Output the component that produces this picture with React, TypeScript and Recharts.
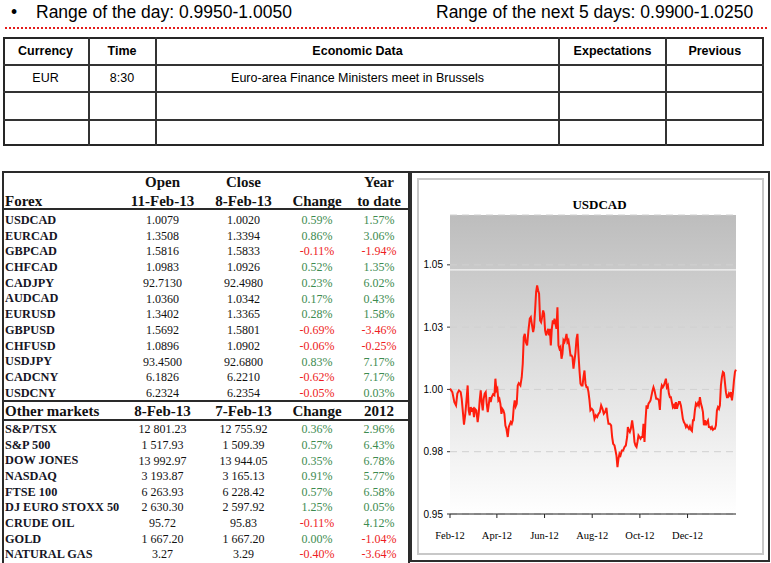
import React from 'react';
import { LineChart, Line, XAxis, YAxis, CartesianGrid, ReferenceLine } from 'recharts';

// ---------- data ----------
const rangeDay = 'Range of the day: 0.9950-1.0050';
const rangeWeek = 'Range of the next 5 days: 0.9900-1.0250';

const econHeaders = ['Currency', 'Time', 'Economic Data', 'Expectations', 'Previous'];
const econRow = ['EUR', '8:30', 'Euro-area Finance Ministers meet in Brussels', '', ''];

const forexHeaderTop = ['', 'Open', 'Close', '', 'Year'];
const forexHeaderBottom = ['Forex', '11-Feb-13', '8-Feb-13', 'Change', 'to date'];
const forexNames = ['USDCAD', 'EURCAD', 'GBPCAD', 'CHFCAD', 'CADJPY', 'AUDCAD', 'EURUSD', 'GBPUSD', 'CHFUSD', 'USDJPY', 'CADCNY', 'USDCNY'];
const forexOpen = ['1.0079', '1.3508', '1.5816', '1.0983', '92.7130', '1.0360', '1.3402', '1.5692', '1.0896', '93.4500', '6.1826', '6.2324'];
const forexClose = ['1.0020', '1.3394', '1.5833', '1.0926', '92.4980', '1.0342', '1.3365', '1.5801', '1.0902', '92.6800', '6.2210', '6.2354'];
const forexChange = ['0.59%', '0.86%', '-0.11%', '0.52%', '0.23%', '0.17%', '0.28%', '-0.69%', '-0.06%', '0.83%', '-0.62%', '-0.05%'];
const forexYtd = ['1.57%', '3.06%', '-1.94%', '1.35%', '6.02%', '0.43%', '1.58%', '-3.46%', '-0.25%', '7.17%', '7.17%', '0.03%'];

const marketHeader = ['Other markets', '8-Feb-13', '7-Feb-13', 'Change', '2012'];
const marketNames = ['S&P/TSX', 'S&P 500', 'DOW JONES', 'NASDAQ', 'FTSE 100', 'DJ EURO STOXX 50', 'CRUDE OIL', 'GOLD', 'NATURAL GAS'];
const marketLast = ['12 801.23', '1 517.93', '13 992.97', '3 193.87', '6 263.93', '2 630.30', '95.72', '1 667.20', '3.27'];
const marketPrev = ['12 755.92', '1 509.39', '13 944.05', '3 165.13', '6 228.42', '2 597.92', '95.83', '1 667.20', '3.29'];
const marketChange = ['0.36%', '0.57%', '0.35%', '0.91%', '0.57%', '1.25%', '-0.11%', '0.00%', '-0.40%'];
const market2012 = ['2.96%', '6.43%', '6.78%', '5.77%', '6.58%', '0.05%', '4.12%', '-1.04%', '-3.64%'];

const chartTitle = 'USDCAD';
// days since 8-Feb-2012
const usdcadDays = [
  0.0, 3.0, 5.6, 7.7, 9.4, 11.5, 13.7, 15.0, 16.7, 17.9, 19.6, 20.9, 22.6, 23.9, 25.2, 26.5, 27.8, 29.5, 30.7, 32.0,
  33.7, 35.4, 36.7, 38.0, 39.3, 40.6, 41.9, 43.1, 44.4, 45.7, 47.0, 48.3, 49.5, 50.8, 52.1, 53.4, 55.1, 56.8, 58.1, 59.4,
  60.6, 61.9, 63.2, 64.5, 65.8, 67.0, 68.3, 69.6, 70.9, 72.2, 73.9, 75.2, 76.4, 77.7, 79.0, 80.3, 81.6, 82.8, 84.1, 85.4,
  86.7, 88.0, 90.1, 91.8, 93.1, 94.4, 95.7, 97.0, 98.7, 100.4, 102.1, 103.4, 104.7, 106.4, 107.6, 108.9, 110.2, 111.5, 112.8, 114.0,
  115.3, 116.6, 117.9, 119.2, 120.4, 121.7, 123.0, 124.3, 125.6, 126.9, 127.7, 129.0, 130.3, 131.6, 132.8, 133.7, 135.0, 136.2, 137.5, 138.8,
  140.1, 141.4, 142.7, 143.9, 145.2, 146.5, 147.8, 149.1, 150.3, 151.6, 152.9, 154.2, 155.5, 156.7, 158.0, 159.3, 160.6, 161.9, 163.1, 164.4,
  165.7, 167.0, 168.3, 169.6, 170.8, 172.1, 173.4, 174.7, 176.0, 177.2, 178.5, 179.7, 181.4, 183.1, 184.9, 186.6, 188.3, 190.0, 191.7, 193.4,
  195.1, 196.8, 198.5, 200.2, 201.5, 202.8, 204.5, 206.2, 207.5, 208.8, 210.5, 211.8, 213.0, 214.3, 215.6, 216.9, 218.2, 219.9, 221.6, 223.3,
  225.0, 226.7, 227.6, 228.8, 230.1, 231.4, 233.1, 234.8, 236.1, 237.4, 238.7, 239.9, 241.2, 242.5, 243.8, 245.1, 246.3, 247.6, 248.9, 250.2,
  251.5, 252.7, 254.0, 255.3, 256.6, 257.9, 259.2, 260.4, 261.7, 263.0, 263.9, 265.6, 267.3, 268.6, 269.9, 271.1, 272.4, 273.7, 275.0, 276.3,
  277.5, 278.8, 280.1, 281.4, 282.7, 283.9, 285.2, 286.5, 287.8, 289.1, 290.4, 291.6, 292.9, 294.2, 295.5, 296.8, 298.0, 299.3, 300.6, 301.9,
  303.2, 304.4, 305.7, 307.0, 308.3, 309.6, 310.9, 312.1, 313.4, 314.7, 316.0, 317.3, 318.5, 319.8, 321.1, 322.4, 323.7, 324.9, 326.2, 327.5,
  328.8, 330.1, 331.3, 332.6, 333.9, 335.2, 336.5, 337.8, 339.0, 340.3, 341.6, 342.9, 344.2, 345.4, 346.7, 348.0, 349.3, 350.6, 351.8, 353.1,
  354.4, 355.7, 357.0, 358.2, 359.5, 360.8, 362.1, 363.4, 364.7, 365.9,
];
const usdcadRates = [
  1.0003, 0.9989, 0.9949, 0.9936, 0.9983, 0.9996, 0.9989, 0.9962, 0.9902, 0.9859, 0.9902, 0.9949, 1.0016, 0.9916, 0.9896, 0.9929, 0.9916, 0.9922, 0.9889, 0.9922,
  0.9916, 0.9869, 0.9902, 0.9956, 0.9996, 0.9949, 0.9916, 0.9962, 0.9983, 0.9989, 0.9942, 0.9909, 0.9936, 0.9969, 0.9949, 0.9969, 0.9980, 0.9976, 1.0043, 0.9996,
  1.0003, 0.9956, 0.9962, 0.9942, 0.9902, 0.9922, 0.9916, 0.9902, 0.9855, 0.9842, 0.9809, 0.9849, 0.9859, 0.9869, 0.9862, 0.9876, 0.9929, 0.9956, 0.9932, 0.9942,
  1.0016, 1.0025, 1.0016, 1.0049, 1.0103, 1.0210, 1.0223, 1.0190, 1.0177, 1.0237, 1.0284, 1.0290, 1.0263, 1.0230, 1.0250, 1.0317, 1.0391, 1.0417, 1.0397, 1.0384,
  1.0277, 1.0270, 1.0290, 1.0317, 1.0304, 1.0237, 1.0217, 1.0230, 1.0243, 1.0217, 1.0243, 1.0177, 1.0243, 1.0277, 1.0263, 1.0284, 1.0263, 1.0243, 1.0330, 1.0177,
  1.0163, 1.0170, 1.0123, 1.0143, 1.0197, 1.0190, 1.0203, 1.0223, 1.0190, 1.0197, 1.0170, 1.0136, 1.0136, 1.0130, 1.0083, 1.0116, 1.0150, 1.0203, 1.0223, 1.0143,
  1.0076, 1.0023, 1.0016, 1.0016, 1.0049, 1.0076, 1.0023, 1.0009, 1.0009, 0.9989, 0.9956, 0.9916, 0.9922, 0.9916, 0.9882, 0.9896, 0.9889, 0.9902, 0.9909, 0.9936,
  0.9922, 0.9902, 0.9909, 0.9926, 0.9889, 0.9862, 0.9862, 0.9856, 0.9809, 0.9782, 0.9775, 0.9755, 0.9735, 0.9688, 0.9722, 0.9742, 0.9735, 0.9755, 0.9755, 0.9769,
  0.9775, 0.9809, 0.9849, 0.9836, 0.9829, 0.9842, 0.9876, 0.9836, 0.9789, 0.9775, 0.9769, 0.9789, 0.9815, 0.9809, 0.9802, 0.9809, 0.9809, 0.9862, 0.9789, 0.9876,
  0.9936, 0.9922, 0.9943, 0.9949, 0.9956, 0.9976, 0.9996, 1.0009, 0.9996, 0.9976, 0.9963, 0.9963, 0.9956, 0.9918, 0.9996, 1.0016, 1.0009, 1.0016, 1.0029, 1.0043,
  1.0009, 1.0016, 0.9983, 0.9969, 0.9969, 0.9949, 0.9929, 0.9936, 0.9922, 0.9949, 0.9922, 0.9936, 0.9949, 0.9949, 0.9936, 0.9909, 0.9882, 0.9869, 0.9862, 0.9849,
  0.9856, 0.9849, 0.9842, 0.9852, 0.9838, 0.9833, 0.9876, 0.9876, 0.9916, 0.9943, 0.9936, 0.9945, 0.9936, 0.9969, 0.9943, 0.9929, 0.9909, 0.9856, 0.9876, 0.9856,
  0.9869, 0.9876, 0.9849, 0.9849, 0.9842, 0.9849, 0.9838, 0.9842, 0.9842, 0.9856, 0.9916, 0.9929, 0.9922, 0.9936, 1.0016, 1.0050, 1.0070, 1.0066, 1.0029, 0.9989,
  0.9969, 0.9969, 0.9983, 0.9976, 0.9989, 0.9956, 0.9989, 1.0036, 1.0070, 1.0079,
];
const xTicks = [0, 60, 121, 182, 243, 304];
const xTickLabels = ['Feb-12', 'Apr-12', 'Jun-12', 'Aug-12', 'Oct-12', 'Dec-12'];
const yTicks = [0.95, 0.975, 1.0, 1.025, 1.05];
const yTickLabels = ['0.95', '0.98', '1.00', '1.03', '1.05'];

const chartData = usdcadDays.map((d, i) => ({ day: d, rate: usdcadRates[i] }));

// ---------- styles ----------
const sans = "'Liberation Sans', Arial, sans-serif";
const narrow = "'Liberation Sans Narrow', 'Arial Narrow', 'Liberation Sans', sans-serif";
const serif = "'Liberation Serif', 'Times New Roman', serif";
const GREEN = '#3d8b50';
const RED = '#ee1c24';

const Rect = ({ l, t, w, h, bg = '#2a2a2a', border }: any) => (
  <div style={{ position: 'absolute', left: l, top: t, width: w, height: h, background: border ? 'transparent' : bg, border, boxSizing: 'border-box' }} />
);

const T = ({ cx, cy, left, children, style }: any) => {
  const base: any = { position: 'absolute', top: cy - 10, height: 20, display: 'flex', alignItems: 'center', whiteSpace: 'pre', lineHeight: 1 };
  if (left !== undefined) return <div style={{ ...base, left, ...style }}>{children}</div>;
  return <div style={{ ...base, left: cx - 100, width: 200, justifyContent: 'center', ...style }}>{children}</div>;
};

const colCenters = [0, 162.5, 243.5, 317, 379];
const pctColor = (s: string) => (s.startsWith('-') ? RED : GREEN);

export default function App() {
  const econCenters = [45.5, 122, 357.5, 612.5, 714.8];
  const hdr = { fontFamily: serif, fontWeight: 'bold', fontSize: 15, color: '#111' };
  const lbl = { fontFamily: serif, fontWeight: 'bold', fontSize: 12.3, color: '#151525' };
  const num = { fontFamily: serif, fontSize: 12, color: '#111' };
  const top = { fontFamily: sans, fontSize: 17.5 };
  return (
    <div style={{ position: 'absolute', left: 0, top: 0, width: 771, height: 563, background: '#fff', overflow: 'hidden' }}>
      {/* top line */}
      <T left={11} cy={12.5} style={top}>•</T>
      <T left={36} cy={12.5} style={top}>{rangeDay}</T>
      <T left={436} cy={12.5} style={top}>{rangeWeek}</T>
      <div style={{ position: 'absolute', left: 5, top: 27, width: 762, borderTop: '2px dotted #e31b1b' }} />

      {/* economic table */}
      <Rect l={3} t={37} w={761} h={109} border="2px solid #262626" />
      <Rect l={3} t={64} w={761} h={2} bg="#333" />
      <Rect l={3} t={91} w={761} h={2} bg="#333" />
      <Rect l={3} t={118.5} w={761} h={2} bg="#333" />
      {[87.5, 154.7, 558.3, 665].map((x) => (
        <Rect key={x} l={x} t={37} w={2} h={109} bg="#333" />
      ))}
      {econHeaders.map((h, i) => (
        <T key={h} cx={econCenters[i]} cy={51} style={{ fontFamily: sans, fontWeight: 'bold', fontSize: 12.5 }}>{h}</T>
      ))}
      {econRow.map((h, i) => (
        <T key={i} cx={econCenters[i]} cy={78.5} style={{ fontFamily: sans, fontSize: 12.5 }}>{h}</T>
      ))}

      {/* markets table */}
      <Rect l={2} t={171} w={407.5} h={400} border="2px solid #2a2a2a" />
      <Rect l={2} t={208} w={407.5} h={2} bg="#2a2a2a" />
      <Rect l={2} t={399.5} w={407.5} h={2.5} bg="#2a2a2a" />
      <Rect l={2} t={419} w={407.5} h={2} bg="#2a2a2a" />
      {forexHeaderTop.map((h, i) => (i > 0 && h ? <T key={'ht' + i} cx={colCenters[i]} cy={182} style={hdr}>{h}</T> : null))}
      {forexHeaderBottom.map((h, i) =>
        i === 0 ? <T key={'hb' + i} left={5} cy={201} style={hdr}>{h}</T> : <T key={'hb' + i} cx={colCenters[i]} cy={201} style={hdr}>{h}</T>
      )}
      {forexNames.map((n, i) => {
        const cy = 220 + i * 15.73;
        return (
          <React.Fragment key={n}>
            <T left={5} cy={cy} style={lbl}>{n}</T>
            <T cx={colCenters[1]} cy={cy} style={num}>{forexOpen[i]}</T>
            <T cx={colCenters[2]} cy={cy} style={num}>{forexClose[i]}</T>
            <T cx={colCenters[3]} cy={cy} style={{ ...num, color: pctColor(forexChange[i]) }}>{forexChange[i]}</T>
            <T cx={colCenters[4]} cy={cy} style={{ ...num, color: pctColor(forexYtd[i]) }}>{forexYtd[i]}</T>
          </React.Fragment>
        );
      })}
      {marketHeader.map((h, i) =>
        i === 0 ? <T key={'mh' + i} left={5} cy={411} style={hdr}>{h}</T> : <T key={'mh' + i} cx={colCenters[i]} cy={411} style={hdr}>{h}</T>
      )}
      {marketNames.map((n, i) => {
        const cy = 429.3 + i * 15.63;
        return (
          <React.Fragment key={n}>
            <T left={5} cy={cy} style={lbl}>{n}</T>
            <T cx={colCenters[1]} cy={cy} style={num}>{marketLast[i]}</T>
            <T cx={colCenters[2]} cy={cy} style={num}>{marketPrev[i]}</T>
            <T cx={colCenters[3]} cy={cy} style={{ ...num, color: pctColor(marketChange[i]) }}>{marketChange[i]}</T>
            <T cx={colCenters[4]} cy={cy} style={{ ...num, color: pctColor(market2012[i]) }}>{market2012[i]}</T>
          </React.Fragment>
        );
      })}

      {/* chart box */}
      <div style={{ position: 'absolute', left: 417, top: 178 }}>
        <LineChart width={346} height={376} data={chartData} margin={{ top: 37, right: 27, bottom: 10, left: 3 }}>
          <defs>
            <linearGradient id="plotBg" x1="0" y1="0" x2="0" y2="1">
              <stop offset="0%" stopColor="#bdbdbd" />
              <stop offset="100%" stopColor="#ffffff" />
            </linearGradient>
          </defs>
          <CartesianGrid vertical={false} stroke="#d0d0d0" strokeDasharray="7 5" fill="url(#plotBg)" fillOpacity={1} />
          <ReferenceLine y={1.048} stroke="#f3f3f3" strokeWidth={1.2} />
          <XAxis
            type="number"
            dataKey="day"
            domain={[0, 366]}
            ticks={xTicks}
            interval={0}
            tickFormatter={(v: number) => xTickLabels[xTicks.indexOf(v)]}
            tickSize={4}
            tickMargin={14}
            height={30}
            axisLine={{ stroke: '#222' }}
            tickLine={{ stroke: '#222' }}
            tick={{ fontSize: 10.5, fill: '#000', fontFamily: serif }}
          />
          <YAxis
            type="number"
            domain={[0.95, 1.07]}
            ticks={yTicks}
            interval={0}
            tickFormatter={(v: number) => yTickLabels[yTicks.indexOf(v)]}
            width={30}
            axisLine={false}
            tickSize={3}
            tickMargin={4}
            tickLine={{ stroke: '#333' }}
            tick={{ fontSize: 10, fill: '#000', fontFamily: narrow }}
          />
          <Line type="linear" dataKey="rate" stroke="#ff1e0e" strokeWidth={2} dot={false} isAnimationActive={false} />
        </LineChart>
      </div>
      <Rect l={410} t={171} w={359.5} h={390.5} border="2px solid #2e2e2e" />
      <Rect l={416.5} t={177.5} w={347} h={377} border="2px solid #c8c8c8" />
      <T cx={599.5} cy={204.5} style={{ fontFamily: serif, fontWeight: 'bold', fontSize: 13 }}>{chartTitle}</T>
    </div>
  );
}
